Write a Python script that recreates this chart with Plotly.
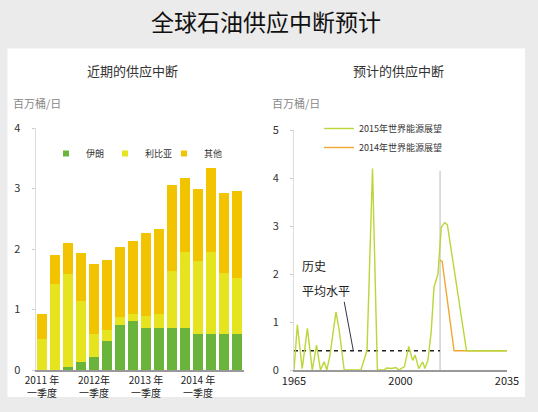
import plotly.graph_objects as go

W, H = 538, 412
FONT = "Noto Sans CJK SC"

# quarterly disruptions 2011Q1 - 2014Q4 (million barrels/day)
quarters = [f"{y}Q{q}" for y in range(2011, 2015) for q in range(1, 5)]
iran = [0.0, 0.0, 0.05, 0.13, 0.22, 0.48, 0.74, 0.81, 0.70, 0.70, 0.70, 0.70, 0.60, 0.60, 0.60, 0.60]
libya = [0.52, 1.42, 1.53, 1.01, 0.38, 0.18, 0.13, 0.12, 0.20, 0.23, 0.93, 1.25, 1.20, 1.35, 1.00, 0.92]
other = [0.41, 0.48, 0.52, 0.79, 1.16, 1.16, 1.17, 1.20, 1.37, 1.40, 1.42, 1.23, 1.20, 1.39, 1.33, 1.44]
q_tickvals = ["2011Q1", "2012Q1", "2013Q1", "2014Q1"]
q_ticktext = ["2011 年<br>一季度", "2012年<br>一季度", "2013 年<br>一季度", "2014 年<br>一季度"]

# projected disruptions (WEO 2015 / WEO 2014)
weo15_years = [1965, 1966.1, 1967.7, 1969.4, 1971, 1972.4, 1973.7, 1974.9, 1975.8, 1976.8, 1978.8,
               1979.8, 1981.5, 1987, 1989, 1990.8, 1992.4, 1994.5, 1995.5, 1997, 1998.5, 1999.5,
               2001.3, 2002.7, 2004, 2004.8, 2006, 2007.3, 2008, 2009, 2010.1, 2011, 2012.3,
               2013.4, 2014.5, 2015.4, 2021.7, 2035]
weo15 = [0.0, 0.94, 0.03, 0.87, 0.0, 0.52, 0.0, 0.17, 0.0, 0.3, 1.21,
         0.85, 0.0, 0.0, 0.41, 4.2, 0.0, 0.0, 0.04, 0.03, 0.05, 0.0,
         0.07, 0.49, 0.2, 0.31, 0.03, 0.17, 0.03, 0.2, 0.8, 1.72, 2.0,
         2.97, 3.07, 3.03, 0.4, 0.4]
weo14_years = [2012.9, 2013.7, 2017.6, 2035]
weo14 = [2.29, 2.26, 0.4, 0.4]
hist_avg_years = [1965, 2013]
hist_avg = [0.4, 0.4]
proj_start = 2013


def fx(p):
    return p / W


def fy(p):
    return 1 - p / H


def label(text, x, y, size, color, xanchor="center"):
    return dict(text=text, x=fx(x), y=fy(y), xref="paper", yref="paper", xanchor=xanchor,
                yanchor="middle", showarrow=False, font=dict(size=size, color=color))


fig = go.Figure()

bar_colors = {"伊朗": "#6ab43c", "利比亚": "#e6e41e", "其他": "#f2c400"}
for name, vals in [("伊朗", iran), ("利比亚", libya), ("其他", other)]:
    fig.add_trace(go.Bar(x=quarters, y=vals, name=name, marker_color=bar_colors[name],
                         marker_line_width=0, showlegend=False, xaxis="x", yaxis="y"))
    # small square legend entries
    fig.add_trace(go.Scatter(x=[None], y=[None], mode="markers", name=name,
                             marker=dict(symbol="square", size=6, color=bar_colors[name]),
                             legend="legend", xaxis="x", yaxis="y"))

fig.add_trace(go.Scatter(x=hist_avg_years, y=hist_avg, mode="lines", showlegend=False,
                         line=dict(color="#222222", width=1.6, dash="4px,4px"), xaxis="x2", yaxis="y2"))
fig.add_trace(go.Scatter(x=weo14_years, y=weo14, mode="lines", name="2014年世界能源展望",
                         line=dict(color="#f0a832", width=1.4), legend="legend2", xaxis="x2", yaxis="y2"))
fig.add_trace(go.Scatter(x=weo15_years, y=weo15, mode="lines", name="2015年世界能源展望",
                         line=dict(color="#b9d737", width=1.4), legend="legend2", xaxis="x2", yaxis="y2"))

tickfont = dict(family=FONT, size=11, color="#333333")
fig.update_layout(
    width=W, height=H, margin=dict(l=0, r=0, t=0, b=0, pad=0, autoexpand=False),
    paper_bgcolor="#ebebeb", plot_bgcolor="rgba(0,0,0,0)",
    font=dict(family=FONT), barmode="stack", bargap=0.3,
    xaxis=dict(domain=[fx(35.5), fx(243.5)], range=[-0.5, 15.5], tickvals=q_tickvals, ticktext=q_ticktext,
               showline=True, linecolor="#999999", linewidth=2, ticks="", showgrid=False,
               tickfont=dict(family=FONT, size=10, color="#222222"), anchor="y"),
    yaxis=dict(domain=[fy(370), fy(128)], range=[0, 4], tickvals=[0, 1, 2, 3, 4], showgrid=False,
               zeroline=False, showline=True, linecolor="#dddddd", linewidth=1, ticks="outside",
               ticklen=3, tickcolor="#cccccc", ticklabelstandoff=9, tickfont=tickfont, anchor="x"),
    xaxis2=dict(domain=[fx(294), fx(507)], range=[1965, 2035], tickvals=[1965, 2000, 2035],
                showline=True, linecolor="#999999", linewidth=2, ticks="", showgrid=False,
                zeroline=False, tickfont=dict(family=FONT, size=11, color="#222222"), anchor="y2"),
    yaxis2=dict(domain=[fy(370), fy(130)], range=[0, 5], tickvals=[0, 1, 2, 3, 4, 5], showgrid=False,
                zeroline=False, showline=True, linecolor="#dddddd", linewidth=1, ticks="outside",
                ticklen=3, tickcolor="#cccccc", ticklabelstandoff=9, tickfont=tickfont, anchor="x2"),
    legend=dict(orientation="h", x=fx(46), y=fy(139), xanchor="left", yanchor="top",
                bgcolor="rgba(0,0,0,0)", itemwidth=30, entrywidth=14, entrywidthmode="pixels",
                font=dict(family=FONT, size=9, color="#333333"), traceorder="normal"),
    legend2=dict(orientation="v", x=fx(319), y=fy(114), xanchor="left", yanchor="top",
                 bgcolor="rgba(0,0,0,0)", traceorder="reversed", tracegroupgap=4,
                 font=dict(family=FONT, size=9, color="#333333")),
    shapes=[
        dict(type="rect", xref="paper", yref="paper", x0=fx(7.5), x1=fx(525), y0=fy(397), y1=fy(48.5),
             fillcolor="white", line_width=0, layer="below"),
        dict(type="line", xref="x2", yref="y2", x0=proj_start, x1=proj_start, y0=-0.1, y1=4.15,
             line=dict(color="#bbbbbb", width=1), layer="below"),
        dict(type="line", xref="x2", yref="y2", x0=1981.5, y0=1.42, x1=1984.5, y1=0.4,
             line=dict(color="#333344", width=1)),
    ],
    annotations=[
        label("全球石油供应中断预计", 266, 21, 23, "#111111"),
        label("近期的供应中断", 132, 70, 13, "#333333"),
        label("预计的供应中断", 398, 70, 13, "#333333"),
        label("百万桶/日", 11, 103, 11, "#888888", "left"),
        label("百万桶/日", 270, 103, 11, "#888888", "left"),
        label("历史", 300, 265, 12, "#222222", "left"),
        label("平均水平", 300, 290, 12, "#222222", "left"),
    ],
)

# the page body has a default margin; drop it so the figure sits at the window corner
fig.write_html("out.html", config={"displayModeBar": False},
               post_script="document.body.style.margin='0';")
